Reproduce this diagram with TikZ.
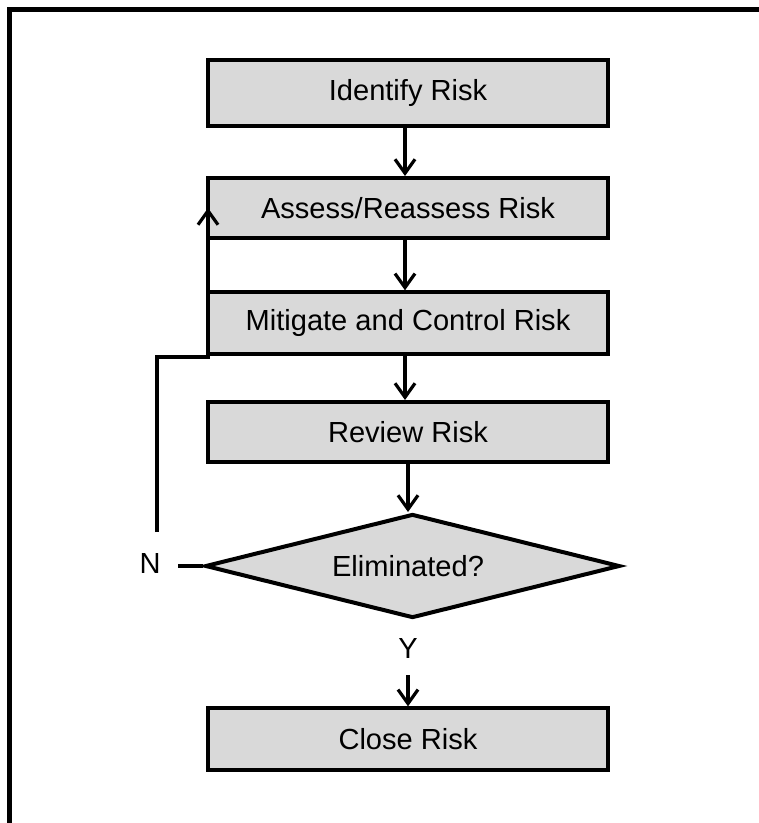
\documentclass[tikz,border=0pt]{standalone}
\usepackage{fontspec}
\setmainfont{Liberation Sans}
\usetikzlibrary{arrows.meta,shapes.geometric}
\definecolor{boxgrey}{HTML}{D9D9D9}
\begin{document}
\begin{tikzpicture}[x=0.75pt,y=-0.75pt,
  box/.style={draw=black,fill=boxgrey,line width=3pt,minimum width=300pt,inner sep=0pt,font=\fontsize{21.8pt}{24pt}\selectfont},
  decision/.style={draw=black,fill=boxgrey,line width=3pt,shape=diamond,aspect=4,inner sep=0pt,minimum width=311pt,minimum height=78pt,font=\fontsize{21.8pt}{24pt}\selectfont},
  lbl/.style={font=\fontsize{21.8pt}{24pt}\selectfont,inner sep=0pt},
  conn/.style={line width=2.4pt,-{Straight Barb[length=10.5pt,width=15pt,line width=2.4pt]}},
  plain/.style={line width=2.4pt}]
\useasboundingbox (0,0) rectangle (758,823);
\draw[line width=3.75pt] (9.5,830) -- (9.5,9.5) -- (765,9.5);
\node[box,minimum height=49pt] (identify) at (408,93) {Identify Risk};
\node[box,minimum height=45pt] (assess) at (408,208) {Assess/Reassess Risk};
\node[box,minimum height=46pt] (mitigate) at (408,323) {Mitigate and Control Risk};
\node[box,minimum height=45pt] (review) at (408,432) {Review Risk};
\node[decision] (elim) at (412.5,566) {};
\node[lbl] (elimtext) at (408,566) {Eliminated?};
\node[lbl] (ylbl) at (408,648) {Y};
\node[lbl] (nlbl) at (150,563) {N};
\node[box,minimum height=46pt] (close) at (408,739) {Close Risk};
\draw[conn] (identify.south -| 405,0) -- (assess.north -| 405,0);
\draw[conn] (assess.south -| 405,0) -- (mitigate.north -| 405,0);
\draw[conn] (mitigate.south -| 405,0) -- (review.north -| 405,0);
\draw[conn] (review.south -| 408,0) -- (elim.north -| 408,0);
\coordinate (ystart) at (408,675);
\draw[conn] (ystart) -- (close.north -| 408,0);
\coordinate (nstart) at (178,566);
\draw[plain] (nstart) -- (elim.west);
\coordinate (loopstart) at (157,532);
\draw[conn] (loopstart) -- (157,357) -- (208,357) -- (assess.west -| 208,0);
\end{tikzpicture}
\end{document}
